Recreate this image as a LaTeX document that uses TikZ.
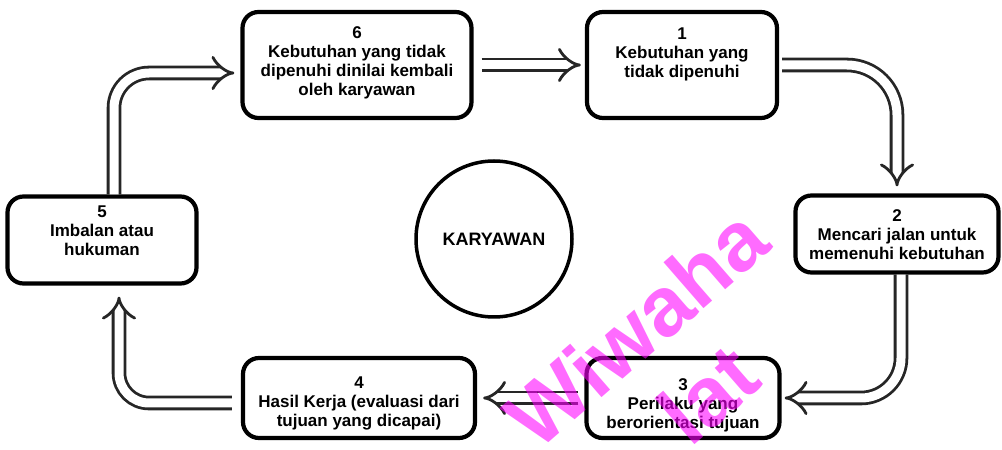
\documentclass[tikz,border=0pt]{standalone}
\usepackage{fontspec}
\setmainfont{Liberation Sans}
\usetikzlibrary{arrows.meta}
\definecolor{wmcol}{RGB}{255,0,255}
\begin{document}
\begin{tikzpicture}[x=1pt,y=1pt,
  box/.style={draw=black, line width=4.2pt, rounded corners=16pt, inner sep=0pt},
  lbl/.style={font=\fontsize{17}{19}\selectfont\bfseries, align=center, inner sep=0pt},
  conn/.style={draw=black!85, line width=2.8pt, double=white, double distance=9pt, -{Implies}},
  wm/.style={font=\fontsize{84}{84}\selectfont\bfseries, text=wmcol, text opacity=0.58, rotate=41, inner sep=0pt}]
\fill[white] (0,0) rectangle (1002,450);
\useasboundingbox (0,0) rectangle (1002,450);

% boxes
\node[box, minimum width=229pt, minimum height=106pt] (b6) at (357,385) {};
\node[box, minimum width=190pt, minimum height=106pt] (b1) at (682,385) {};
\node[box, minimum width=203pt, minimum height=77pt]  (b2) at (897,216) {};
\node[box, minimum width=189pt, minimum height=87pt]  (b5) at (102,210) {};
\node[box, minimum width=232pt, minimum height=80pt]  (b4) at (359,52) {};
\node[box, minimum width=193pt, minimum height=80pt]  (b3) at (683,52) {};

% texts
\node[lbl] (t6) at (357,387) {6\\Kebutuhan yang tidak\\dipenuhi dinilai kembali\\oleh karyawan};
\node[lbl] (t1) at (682,396) {1\\Kebutuhan yang\\tidak dipenuhi};
\node[lbl] (t2) at (897,215) {2\\Mencari jalan untuk\\memenuhi kebutuhan};
\node[lbl] (t5) at (102,219) {5\\Imbalan atau\\hukuman};
\node[lbl] (t4) at (359,47) {4\\Hasil Kerja (evaluasi dari\\tujuan yang dicapai)};
\node[lbl] (t3) at (683,45) {3\\Perilaku yang\\berorientasi tujuan};

% centre
\node[draw=black, circle, line width=3.5pt, minimum size=156pt, inner sep=0pt,
      font=\fontsize{18}{20}\selectfont\bfseries] (kar) at (494,211) {KARYAWAN};

% connectors
\draw[conn, shorten <=8pt, shorten >=4pt] (b6.east) -- (b1.west);
\draw[conn, rounded corners=50pt, shorten <=3pt, shorten >=7pt] (b1.east) -| (b2.north);
\draw[conn, rounded corners=40pt, shorten >=3pt] ([xshift=4pt]b2.south) |- (b3.east);
\draw[conn, shorten <=6pt, shorten >=6pt] (b3.west) -- (b4.east);
\draw[conn, rounded corners=30pt, shorten <=9pt, shorten >=11pt] ([yshift=-5pt]b4.west) -| ([xshift=17pt]b5.south);
\draw[conn, rounded corners=35pt, shorten >=6pt] ([xshift=12pt]b5.north) |- ([yshift=-8pt]b6.west);

% watermark
\node[wm] (wm1) at (636,122) {Wiwaha};
\node[wm] (wm2) at (708,56) {lat};
\end{tikzpicture}
\end{document}
